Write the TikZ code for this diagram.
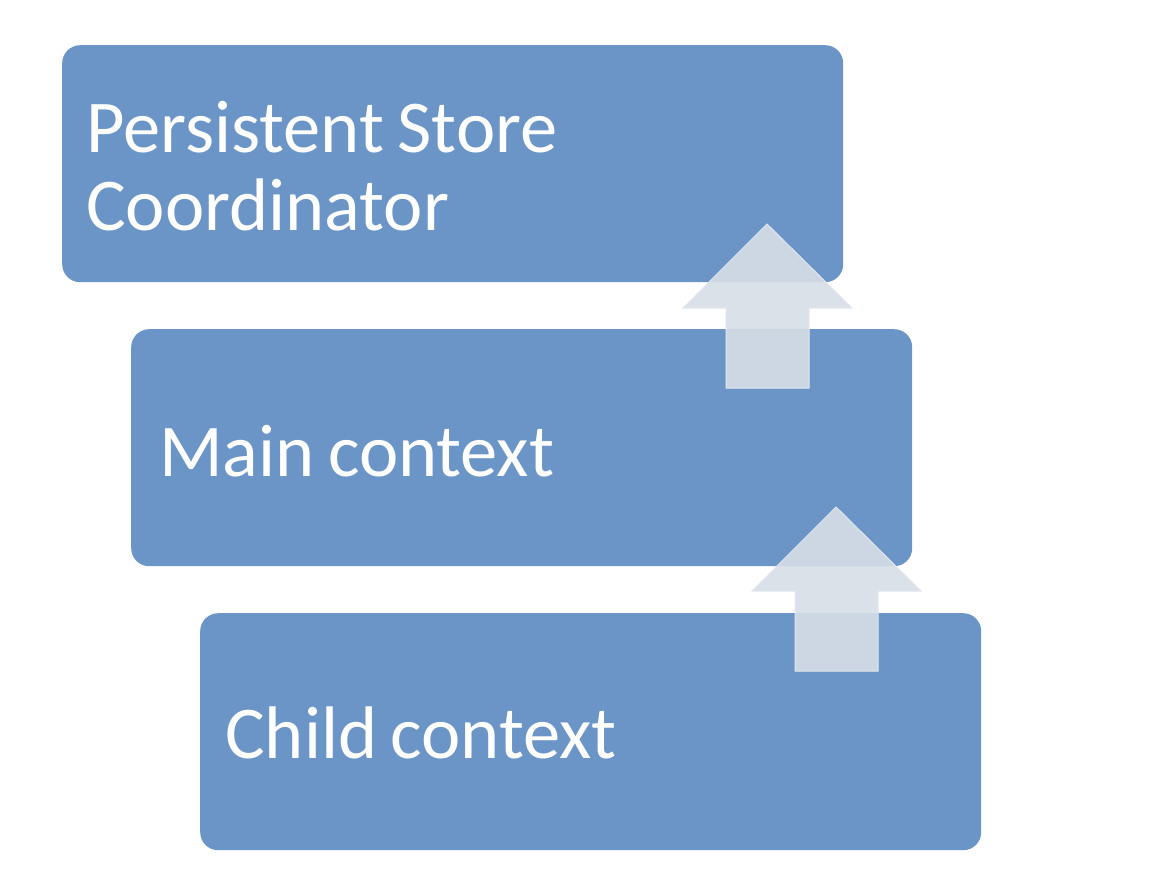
\documentclass[tikz,border=0pt]{standalone}
\usepackage{fontspec}
\setmainfont[WordSpace=0.8]{Carlito}
\definecolor{boxblue}{HTML}{6B95C6}
\definecolor{arrowfill}{HTML}{D8DEE7}
\definecolor{arrowline}{HTML}{E2E7EF}
\begin{document}
\begin{tikzpicture}[x=1pt,y=-1pt,
  box/.style={fill=boxblue, draw=none, rounded corners=18pt, anchor=north west,
    minimum width=781pt, minimum height=237pt, inner sep=0pt},
  label/.style={anchor=base west, inner sep=0pt, align=left, text=white,
    font=\fontsize{74.5}{78}\selectfont},
  uparrow/.style={fill=arrowfill, fill opacity=0.9, draw=arrowline, line width=1pt}]
\useasboundingbox[fill=white] (0,0) rectangle (1152,880);
\node[box] (pscbox) at (62,45) {};
\node[box] (mainbox) at (131,329) {};
\node[box] (childbox) at (200,613) {};
\node[label] (psctext) at (86,230) {Persistent Store\\Coordinator};
\node[label] (maintext) at (159,476) {Main context};
\node[label] (childtext) at (225,758) {Child context};
% block arrows
\coordinate (tipA) at (767,224);
\coordinate (tipB) at (836,507);
\draw[uparrow] (tipA) -- ++(85,84) -- ++(-43,0) -- ++(0,80) -- ++(-83,0) -- ++(0,-80) -- ++(-43,0) -- cycle;
\draw[uparrow] (tipB) -- ++(85,84) -- ++(-43,0) -- ++(0,80) -- ++(-83,0) -- ++(0,-80) -- ++(-43,0) -- cycle;
\end{tikzpicture}
\end{document}
